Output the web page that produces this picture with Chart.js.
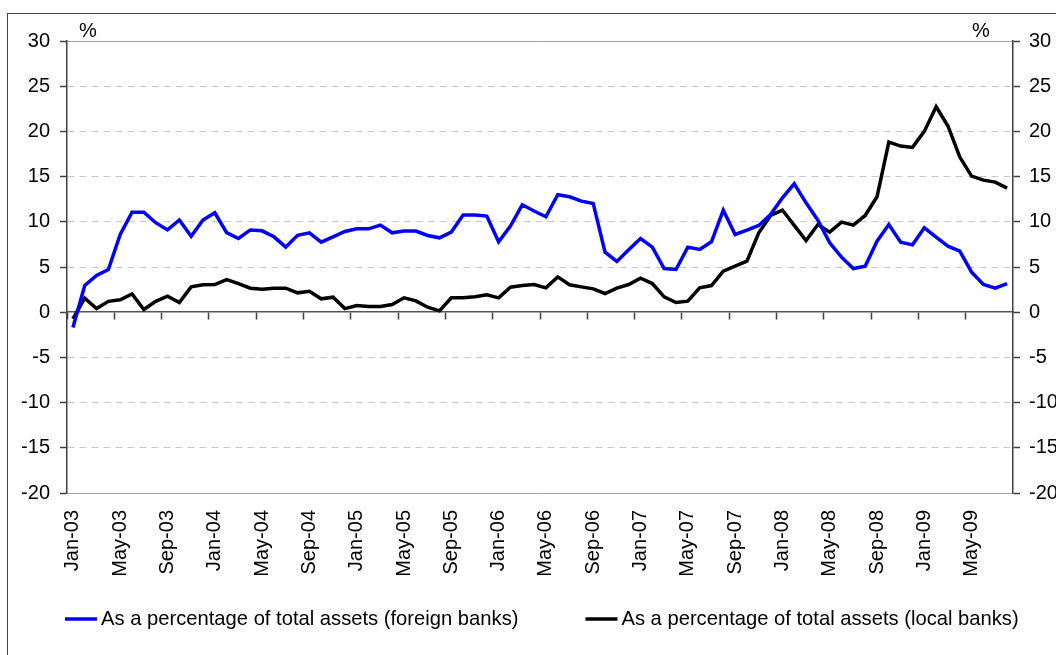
<!DOCTYPE html>
<html><head><meta charset="utf-8">
<script src="https://cdn.jsdelivr.net/npm/chart.js@4.4.1/dist/chart.umd.min.js"></script>
<style>
html,body{margin:0;padding:0;background:#fff;overflow:hidden;}
#wrap{position:relative;width:1056px;height:655px;overflow:hidden;}
#frame{position:absolute;left:7px;top:13px;width:1100px;height:700px;border-left:1px solid #404040;border-top:1px solid #404040;}
canvas{position:absolute;left:0;top:0;}
</style></head><body>
<div id="wrap"><div id="frame"></div><canvas id="c" width="1056" height="655"></canvas></div>
<script>
const categories = [
 'Jan-03','Feb-03','Mar-03','Apr-03','May-03','Jun-03','Jul-03','Aug-03','Sep-03','Oct-03','Nov-03','Dec-03',
 'Jan-04','Feb-04','Mar-04','Apr-04','May-04','Jun-04','Jul-04','Aug-04','Sep-04','Oct-04','Nov-04','Dec-04',
 'Jan-05','Feb-05','Mar-05','Apr-05','May-05','Jun-05','Jul-05','Aug-05','Sep-05','Oct-05','Nov-05','Dec-05',
 'Jan-06','Feb-06','Mar-06','Apr-06','May-06','Jun-06','Jul-06','Aug-06','Sep-06','Oct-06','Nov-06','Dec-06',
 'Jan-07','Feb-07','Mar-07','Apr-07','May-07','Jun-07','Jul-07','Aug-07','Sep-07','Oct-07','Nov-07','Dec-07',
 'Jan-08','Feb-08','Mar-08','Apr-08','May-08','Jun-08','Jul-08','Aug-08','Sep-08','Oct-08','Nov-08','Dec-08',
 'Jan-09','Feb-09','Mar-09','Apr-09','May-09','Jun-09','Jul-09','Aug-09'
];
const foreignBanks = [
 -1.7, 2.95, 4.06, 4.72, 8.6, 11.07, 11.07, 9.9, 9.1, 10.2, 8.4, 10.2,
 11.0, 8.8, 8.15, 9.1, 9.0, 8.34, 7.2, 8.5, 8.78, 7.75, 8.34, 8.93,
 9.22, 9.22, 9.63, 8.78, 8.97, 8.97, 8.49, 8.23, 8.86, 10.74, 10.74, 10.63,
 7.79, 9.52, 11.88, 11.2, 10.56, 13.0, 12.77, 12.29, 12.03, 6.64, 5.61, 6.9,
 8.15, 7.2, 4.83, 4.72, 7.2, 6.94, 7.79, 11.29, 8.6, 9.08, 9.6, 10.81,
 12.66, 14.2, 12.1, 10.18, 7.68, 6.09, 4.83, 5.09, 7.86, 9.7, 7.75, 7.45,
 9.34, 8.3, 7.31, 6.75, 4.43, 3.06, 2.66, 3.17
];
const localBanks = [
 -0.74, 1.55, 0.4, 1.2, 1.37, 2.03, 0.3, 1.2, 1.77, 1.07, 2.8, 3.03,
 3.06, 3.6, 3.17, 2.66, 2.55, 2.66, 2.66, 2.14, 2.32, 1.48, 1.66, 0.4,
 0.74, 0.63, 0.63, 0.85, 1.59, 1.25, 0.55, 0.15, 1.59, 1.59, 1.7, 1.92,
 1.59, 2.77, 2.95, 3.06, 2.69, 3.91, 3.03, 2.8, 2.58, 2.07, 2.66, 3.06,
 3.76, 3.17, 1.7, 1.07, 1.22, 2.69, 2.95, 4.54, 5.09, 5.65, 8.78, 10.7,
 11.3, 9.6, 7.93, 9.7, 8.86, 9.96, 9.63, 10.7, 12.77, 18.82, 18.38, 18.23,
 20.0, 22.73, 20.6, 17.16, 15.06, 14.61, 14.39, 13.73
];
const seriesLabels = ['As a percentage of total assets (foreign banks)', 'As a percentage of total assets (local banks)'];
const seriesColors = ['#0000ff', '#000000'];
const axisUnit = '%';
const yMin = -20, yMax = 30, yStep = 5;
const labelEvery = 4;

const FONT = '"Liberation Sans", Arial, sans-serif';
Chart.defaults.font.family = FONT;
Chart.defaults.font.size = 20;
Chart.defaults.color = '#000';

const extras = {
  id: 'extras',
  afterDraw(chart) {
    const {ctx, chartArea} = chart;
    ctx.save();
    ctx.font = '20px ' + FONT;
    ctx.fillStyle = '#000';
    ctx.textBaseline = 'middle';
    ctx.textAlign = 'center';
    ctx.fillText(axisUnit, chartArea.left + 21, chartArea.top - 10);
    ctx.fillText(axisUnit, chartArea.right - 32, chartArea.top - 10);
    ctx.font = '20.2px ' + FONT;
    const y = 619;
    let x = 65;
    chart.data.datasets.forEach(ds => {
      ctx.strokeStyle = ds.borderColor;
      ctx.lineWidth = 3.5;
      ctx.beginPath(); ctx.moveTo(x, y); ctx.lineTo(x + 32, y); ctx.stroke();
      ctx.textAlign = 'left';
      ctx.fillText(ds.label, x + 36, y);
      x += 36 + ctx.measureText(ds.label).width + 67;
    });
    ctx.restore();
  }
};

const gridColor = (c) => {
  const v = c.tick ? c.tick.value : undefined;
  if (v === 0) return 'rgba(0,0,0,0)';
  if (v === yMax || v === yMin) return '#a0a0a0';
  return '#c8c8c8';
};
const gridDash = (c) => {
  const v = c.tick ? c.tick.value : undefined;
  return (v === undefined || v === 0 || v === yMax || v === yMin) ? [] : [7, 5];
};

new Chart(document.getElementById('c'), {
  type: 'line',
  data: {
    labels: categories,
    datasets: [
      {label: seriesLabels[0], data: foreignBanks, borderColor: seriesColors[0], backgroundColor: seriesColors[0], borderWidth: 3.5, pointRadius: 0, tension: 0, fill: false},
      {label: seriesLabels[1], data: localBanks, borderColor: seriesColors[1], backgroundColor: seriesColors[1], borderWidth: 3.5, pointRadius: 0, tension: 0, fill: false}
    ]
  },
  options: {
    responsive: false,
    animation: false,
    devicePixelRatio: 1,
    layout: {padding: {top: 41, left: 0, right: 0, bottom: 62}},
    plugins: {legend: {display: false}, tooltip: {enabled: false}},
    scales: {
      x: {
        type: 'category', position: 'bottom', offset: true,
        grid: {display: false, offset: true},
        border: {display: false},
        ticks: {
          autoSkip: false, maxRotation: 90, minRotation: 90, padding: 9,
          callback(v, i) { return i % labelEvery === 0 ? this.getLabelForValue(v) : ''; }
        },
        afterFit(s) { s.height = 100; }
      },
      xZero: {
        type: 'category', position: {y: 0}, offset: true,
        grid: {display: true, offset: true, drawOnChartArea: false, drawTicks: true, tickLength: 7, tickWidth: 1.5,
          tickColor: (c) => (c.index % labelEvery === 0) ? '#404040' : 'rgba(0,0,0,0)'},
        border: {display: true, color: '#555555', width: 1.5},
        ticks: {display: false}
      },
      y: {
        position: 'left', min: yMin, max: yMax,
        ticks: {stepSize: yStep, padding: 10},
        grid: {color: gridColor, lineWidth: 1, tickLength: 7, tickWidth: 1.5, tickColor: '#404040'},
        border: {display: true, color: '#404040', width: 1.5, dash: gridDash},
        afterFit(s) { s.width = 67; }
      },
      y2: {
        position: 'right', min: yMin, max: yMax,
        ticks: {stepSize: yStep, padding: 9},
        grid: {drawOnChartArea: false, tickLength: 7, tickWidth: 1.5, tickColor: '#404040'},
        border: {display: true, color: '#404040', width: 1.5},
        afterFit(s) { s.width = 43; }
      }
    }
  },
  plugins: [extras]
});
</script>
</body></html>
